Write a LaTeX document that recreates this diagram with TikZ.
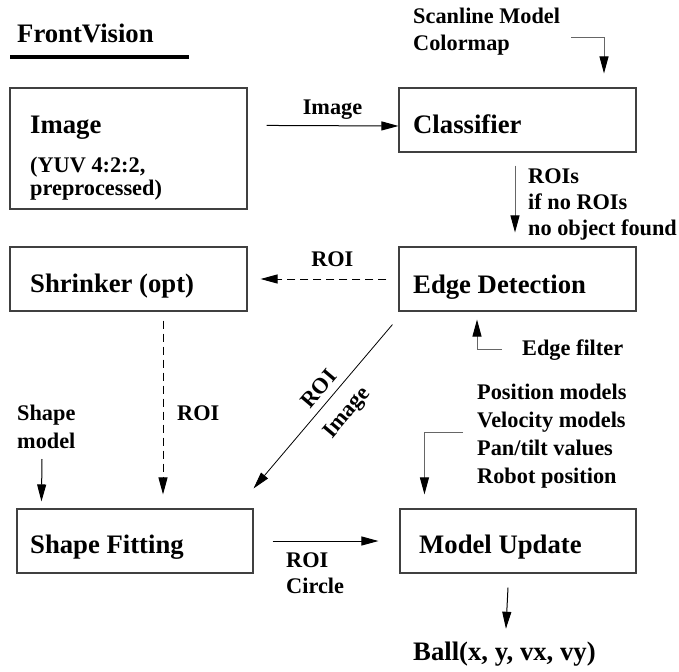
\documentclass[tikz,border=0pt]{standalone}
\usepackage{fontspec}
\setmainfont{Liberation Serif}
\usetikzlibrary{arrows.meta}
\newcommand\boxfont{\fontsize{26.7}{30}\selectfont\bfseries}
\newcommand\tagfont{\fontsize{22.3}{27}\selectfont\bfseries}

\begin{document}
\begin{tikzpicture}[
    x=1pt, y=-1pt,
    >={Triangle[length=17pt, width=9pt, color=black]},
    box/.style={rectangle, draw=black!75, line width=1.1pt, minimum width=237pt, minimum height=64pt, inner sep=0pt},
    boxtext/.style={font=\boxfont, inner sep=0pt, anchor=base west},
    lbl/.style={font=\tagfont, inner sep=0pt},
    arrow/.style={->, line width=1pt},
    feed/.style={->, line width=1pt, draw=black!60},
    opt/.style={->, line width=1pt, dash pattern=on 8pt off 5pt}
]
    \useasboundingbox (0,0) rectangle (679,671);

    % title
    \node[boxtext] (ttl) at (17,43) {FrontVision};
    \draw[line width=3.5pt] ([xshift=-7pt,yshift=-14pt]ttl.base west) -- ++(179,0);

    % boxes
    \node[box, minimum height=121pt] (img) at (128.5,148.5) {};
    \node[box] (cls) at (517.5,120) {};
    \node[box] (shr) at (128.5,279) {};
    \node[box] (edge) at (517.5,279) {};
    \node[box, minimum width=236pt] (fit) at (135,541) {};
    \node[box, minimum width=236pt] (upd) at (518,541) {};

    \node[boxtext] (img-t) at (30,134) {Image};
    \node[lbl, anchor=base west, align=left, font=\fontsize{22.3}{23}\selectfont\bfseries] (img-f) at (30,195) {(YUV 4:2:2,\\preprocessed)};
    \node[boxtext] (cls-t) at (413,134) {Classifier};
    \node[boxtext] (edge-t) at (413,293) {Edge Detection};
    \node[boxtext] (shr-t) at (30,292) {Shrinker (opt)};
    \node[boxtext] (fit-t) at (30,553) {Shape Fitting};
    \node[boxtext] (upd-t) at (419,553) {Model Update};
    \node[boxtext] (ball) at (413,660) {Ball(x, y, vx, vy)};

    % side inputs and labels (base = last line)
    \node[lbl, anchor=base west, align=left] (scan) at (413,51) {Scanline Model\\Colormap};
    \node[lbl, anchor=base west, align=left, font=\fontsize{22.3}{26}\selectfont\bfseries] (rois) at (528,235) {ROIs\\if no ROIs\\no object found};
    \node[lbl, anchor=base west] (filt) at (522,355) {Edge filter};
    \node[lbl, anchor=base west] (shr-roi) at (177,420) {ROI};
    \node[lbl, anchor=base west, align=left, font=\fontsize{22.3}{28}\selectfont\bfseries] (shape) at (17,448) {Shape\\model};
    \node[lbl, anchor=base west, align=left, font=\fontsize{22.3}{27.7}\selectfont\bfseries] (models) at (477,483) {Position models\\Velocity models\\Pan/tilt values\\Robot position};
    \node[lbl, anchor=base west, align=left, font=\fontsize{22.3}{26}\selectfont\bfseries] (fit-out) at (286,593) {ROI\\Circle};
    \coordinate (shape-in) at (42,459);

    % connectors
    \draw[arrow] ([xshift=19pt,yshift=-38pt]img.north east) -- node[lbl, above=6pt] {Image} ([yshift=-6pt]cls.west);
    \draw[feed] ([xshift=11pt,yshift=-5pt]scan.east) -| ([xshift=86.5pt,yshift=14pt]cls.north);
    \draw[feed] ([xshift=-2.5pt,yshift=-13pt]cls.south) -- ([xshift=-2.5pt,yshift=14pt]edge.north);
    \draw[opt] ([xshift=-12pt]edge.west) -- node[lbl, above=12pt, pos=.43] {ROI} ([xshift=13pt]shr.east);
    \draw[feed] ([xshift=-20pt]filt.west) -| ([xshift=-40.5pt,yshift=-8pt]edge.south);
    \draw[opt] ([xshift=34.5pt,yshift=-9pt]shr.south) -- ([xshift=28pt,yshift=14pt]fit.north);
    \draw[arrow, line width=.8pt] ([xshift=-6pt,yshift=-13pt]edge.south west) -- node[lbl, sloped, above=7pt, pos=.45] {ROI} node[lbl, sloped, below=13pt, pos=.45] {Image} ([yshift=20pt]fit.north east);
    \draw[arrow] (shape-in) -- ([xshift=25pt,yshift=7pt]fit.north west);
    \draw[feed] ([xshift=-14pt,yshift=3.5pt]models.west) -| ([xshift=25pt,yshift=14pt]upd.north west);
    \draw[arrow] ([xshift=19pt]fit.east) -- ([xshift=-21pt]upd.west);
    \draw[arrow] ([xshift=-10pt,yshift=-14pt]upd.south) -- ([xshift=1.5pt,yshift=12.5pt]ball.north);
\end{tikzpicture}
\end{document}
